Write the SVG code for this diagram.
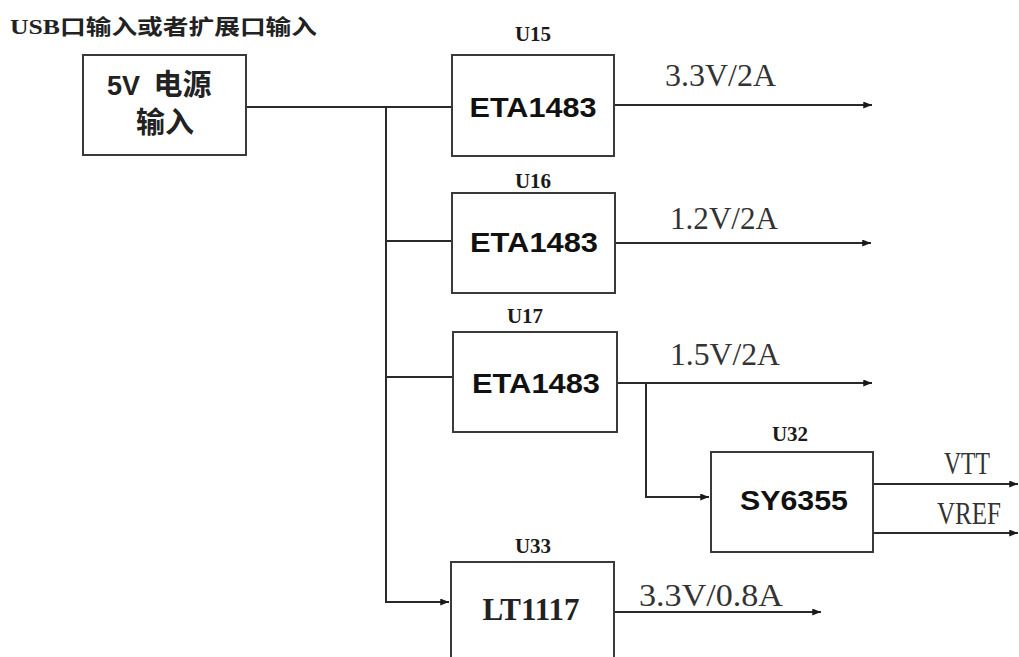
<svg xmlns="http://www.w3.org/2000/svg" width="1019" height="657" viewBox="0 0 1019 657">
<style>
.box{fill:#fff;stroke:#3a3a3a;stroke-width:2}
.ln{fill:none;stroke:#2a2a2a;stroke-width:2}
.ref{font-family:"Liberation Serif",serif;font-weight:bold;font-size:21px;fill:#1a1a1a;text-anchor:middle}
.chip{font-family:"Liberation Sans",sans-serif;font-weight:bold;font-size:28px;fill:#111;text-anchor:middle}
.lbl{font-family:"Liberation Serif",serif;font-size:31px;fill:#333}
.cjk{font-family:"Liberation Sans","Noto Sans CJK SC",sans-serif;font-weight:bold;fill:#222}
.title{font-family:"Liberation Serif","Noto Sans CJK SC",serif;font-weight:bold;font-size:21px;fill:#222}
</style>
<defs>
<marker id="ah" viewBox="0 0 10 8" refX="10" refY="4" markerWidth="10" markerHeight="7" markerUnits="userSpaceOnUse" orient="auto">
<path d="M0,0 L10,4 L0,8 Z" fill="#1a1a1a"/>
</marker>
</defs>
<rect width="1019" height="657" fill="#fff"/>
<text x="10" y="34" class="title" textLength="307" lengthAdjust="spacingAndGlyphs">USB口输入或者扩展口输入</text>
<g id="connectors">
<polyline class="ln" points="246,107 452,107"/>
<polyline class="ln" points="386,107 386,602 449,602" marker-end="url(#ah)"/>
<polyline class="ln" points="386,241 452,241"/>
<polyline class="ln" points="386,377 453,377"/>
<polyline class="ln" points="614,105 872,105" marker-end="url(#ah)"/>
<polyline class="ln" points="615,243 871,243" marker-end="url(#ah)"/>
<polyline class="ln" points="617,383 872,383" marker-end="url(#ah)"/>
<polyline class="ln" points="646,383 646,497 709,497" marker-end="url(#ah)"/>
<polyline class="ln" points="873,484 1018,484" marker-end="url(#ah)"/>
<polyline class="ln" points="873,533 1018,533" marker-end="url(#ah)"/>
<polyline class="ln" points="614,612 821,612" marker-end="url(#ah)"/>
<text class="lbl" x="665" y="86" textLength="111" lengthAdjust="spacingAndGlyphs">3.3V/2A</text>
<text class="lbl" x="670" y="229" textLength="108" lengthAdjust="spacingAndGlyphs">1.2V/2A</text>
<text class="lbl" x="670" y="365" textLength="110" lengthAdjust="spacingAndGlyphs">1.5V/2A</text>
<text class="lbl" x="944" y="474" textLength="46" lengthAdjust="spacingAndGlyphs">VTT</text>
<text class="lbl" x="937" y="524" textLength="64" lengthAdjust="spacingAndGlyphs">VREF</text>
<text class="lbl" x="639" y="606" textLength="144" lengthAdjust="spacingAndGlyphs">3.3V/0.8A</text>
</g>
<g id="src">
<rect class="box" x="83" y="55" width="163" height="100"/>
<text class="cjk" x="107" y="95" font-size="27"><tspan>5V </tspan><tspan dx="6" font-size="29">电源</tspan></text>
<text class="cjk" x="165" y="133" font-size="29" text-anchor="middle">输入</text>
</g>
<g id="u15">
<rect class="box" x="452" y="55" width="162" height="101"/>
<text class="ref" x="533" y="41">U15</text>
<text class="chip" x="533" y="117" textLength="127" lengthAdjust="spacingAndGlyphs">ETA1483</text>
</g>
<g id="u16">
<rect class="box" x="452" y="193" width="163" height="100"/>
<text class="ref" x="533" y="188">U16</text>
<text class="chip" x="534" y="252" textLength="128" lengthAdjust="spacingAndGlyphs">ETA1483</text>
</g>
<g id="u17">
<rect class="box" x="453" y="332" width="164" height="100"/>
<text class="ref" x="525" y="323">U17</text>
<text class="chip" x="536" y="393" textLength="128" lengthAdjust="spacingAndGlyphs">ETA1483</text>
</g>
<g id="u32">
<rect class="box" x="711" y="452" width="162" height="100"/>
<text class="ref" x="790" y="441">U32</text>
<text class="chip" x="794" y="510" textLength="108" lengthAdjust="spacingAndGlyphs">SY6355</text>
</g>
<g id="u33">
<rect class="box" x="451" y="562" width="163" height="110"/>
<text class="ref" x="533" y="553">U33</text>
<text x="531" y="620" font-family="Liberation Serif,serif" font-weight="bold" font-size="31" fill="#222" text-anchor="middle" textLength="97" lengthAdjust="spacingAndGlyphs">LT1117</text>
</g>
</svg>
